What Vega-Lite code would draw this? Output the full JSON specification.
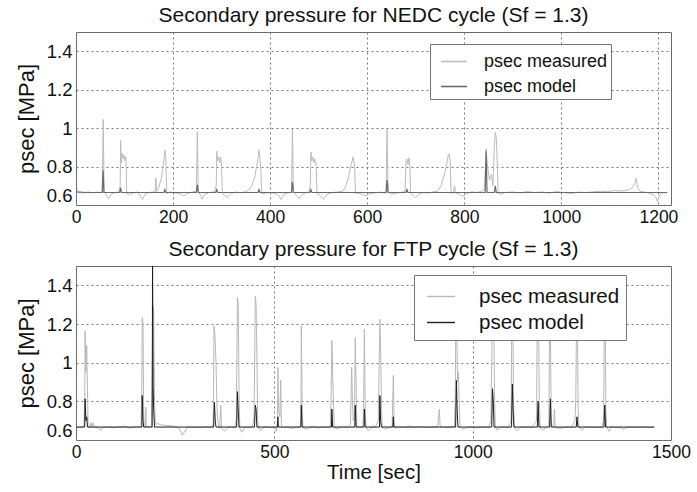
{
  "$schema": "https://vega.github.io/schema/vega-lite/v6.json",
  "padding": {"left": 14, "top": 4, "right": 5, "bottom": 5},
  "config": {
    "font": "Liberation Sans",
    "view": {"stroke": "#6a6a6a", "strokeWidth": 1},
    "axis": {
      "grid": true, "gridColor": "#7a7a7a", "gridDash": [2, 3], "gridOpacity": 1, "gridWidth": 1,
      "domain": false, "ticks": false,
      "labelColor": "#111", "labelFont": "Liberation Sans",
      "titleColor": "#111", "titleFont": "Liberation Sans", "titleFontWeight": "normal"
    },
    "axisX": {"labelFontSize": 17.5, "labelPadding": 3, "labelFlush": false, "titleFontSize": 20.5, "titlePadding": 2, "format": "d"},
    "axisY": {"labelFontSize": 18.5, "labelPadding": 4, "labelFlush": true, "titleFontSize": 22, "titlePadding": 8},
    "title": {"fontSize": 21, "fontWeight": "normal", "color": "#111", "font": "Liberation Sans", "offset": 6},
    "legend": {"title": null, "strokeColor": "#777", "fillColor": "white", "symbolType": "stroke", "labelColor": "#111", "labelFont": "Liberation Sans", "cornerRadius": 0},
    "concat": {"spacing": 12}
  },
  "resolve": {"scale": {"color": "independent", "x": "independent", "y": "independent"}, "legend": {"color": "independent"}},
  "datasets": {
    "nedc_meas": [
      {"t":0,"v":0.67},{"t":5,"v":0.665},{"t":15,"v":0.662},{"t":25,"v":0.668},{"t":35,"v":0.663},{"t":45,"v":0.667},{"t":54,"v":0.665},{"t":56,"v":1.045},{"t":58,"v":0.67},{"t":62,"v":0.655},{"t":67,"v":0.632},{"t":72,"v":0.655},{"t":80,"v":0.665},{"t":88,"v":0.668},{"t":91,"v":0.7},{"t":92,"v":0.935},{"t":93.5,"v":0.82},{"t":95,"v":0.87},{"t":97,"v":0.84},{"t":99,"v":0.86},{"t":101,"v":0.83},{"t":103,"v":0.85},{"t":104.5,"v":0.66},{"t":110,"v":0.655},{"t":118,"v":0.663},{"t":125,"v":0.668},{"t":132,"v":0.652},{"t":137,"v":0.628},{"t":142,"v":0.655},{"t":150,"v":0.665},{"t":160,"v":0.668},{"t":163,"v":0.67},{"t":164.5,"v":0.74},{"t":166,"v":0.67},{"t":170,"v":0.69},{"t":175,"v":0.73},{"t":179,"v":0.79},{"t":181,"v":0.83},{"t":183,"v":0.885},{"t":185,"v":0.84},{"t":187,"v":0.66},{"t":192,"v":0.667},{"t":200,"v":0.665},{"t":210,"v":0.66},{"t":217,"v":0.655},{"t":222,"v":0.648},{"t":230,"v":0.66},{"t":240,"v":0.668},{"t":248,"v":0.67},{"t":250,"v":0.98},{"t":252,"v":0.67},{"t":256,"v":0.655},{"t":260,"v":0.63},{"t":265,"v":0.655},{"t":275,"v":0.665},{"t":285,"v":0.668},{"t":289,"v":0.7},{"t":290,"v":0.88},{"t":292,"v":0.83},{"t":294,"v":0.85},{"t":296,"v":0.82},{"t":298,"v":0.85},{"t":300,"v":0.8},{"t":301.5,"v":0.66},{"t":306,"v":0.65},{"t":312,"v":0.64},{"t":320,"v":0.66},{"t":330,"v":0.668},{"t":340,"v":0.663},{"t":350,"v":0.67},{"t":357,"v":0.68},{"t":362,"v":0.7},{"t":368,"v":0.74},{"t":372,"v":0.8},{"t":375,"v":0.84},{"t":377,"v":0.885},{"t":379,"v":0.84},{"t":381,"v":0.78},{"t":382.5,"v":0.66},{"t":390,"v":0.662},{"t":400,"v":0.665},{"t":410,"v":0.66},{"t":418,"v":0.648},{"t":423,"v":0.628},{"t":428,"v":0.655},{"t":438,"v":0.665},{"t":444,"v":0.668},{"t":446,"v":0.995},{"t":448,"v":0.67},{"t":454,"v":0.65},{"t":460,"v":0.632},{"t":466,"v":0.655},{"t":475,"v":0.665},{"t":481,"v":0.67},{"t":483,"v":0.72},{"t":484,"v":0.875},{"t":486,"v":0.83},{"t":488,"v":0.85},{"t":490,"v":0.82},{"t":492,"v":0.84},{"t":495,"v":0.8},{"t":496.5,"v":0.66},{"t":502,"v":0.65},{"t":510,"v":0.63},{"t":517,"v":0.655},{"t":528,"v":0.665},{"t":540,"v":0.668},{"t":550,"v":0.672},{"t":556,"v":0.7},{"t":561,"v":0.74},{"t":565,"v":0.79},{"t":568,"v":0.82},{"t":571,"v":0.85},{"t":574,"v":0.8},{"t":576,"v":0.66},{"t":582,"v":0.662},{"t":590,"v":0.655},{"t":598,"v":0.648},{"t":606,"v":0.66},{"t":615,"v":0.663},{"t":625,"v":0.667},{"t":635,"v":0.662},{"t":639,"v":0.67},{"t":641,"v":0.995},{"t":643,"v":0.67},{"t":650,"v":0.655},{"t":660,"v":0.662},{"t":670,"v":0.665},{"t":678,"v":0.67},{"t":680,"v":0.83},{"t":682,"v":0.84},{"t":684,"v":0.81},{"t":686,"v":0.845},{"t":688,"v":0.8},{"t":689.5,"v":0.66},{"t":695,"v":0.65},{"t":700,"v":0.636},{"t":706,"v":0.655},{"t":715,"v":0.665},{"t":725,"v":0.662},{"t":735,"v":0.668},{"t":745,"v":0.672},{"t":752,"v":0.7},{"t":758,"v":0.75},{"t":763,"v":0.8},{"t":767,"v":0.86},{"t":769,"v":0.866},{"t":771,"v":0.82},{"t":773,"v":0.66},{"t":777,"v":0.665},{"t":780,"v":0.7},{"t":782,"v":0.665},{"t":790,"v":0.655},{"t":797,"v":0.645},{"t":805,"v":0.66},{"t":815,"v":0.668},{"t":825,"v":0.665},{"t":835,"v":0.67},{"t":842,"v":0.68},{"t":845,"v":0.893},{"t":848,"v":0.8},{"t":852,"v":0.73},{"t":856,"v":0.76},{"t":859,"v":0.7},{"t":862,"v":0.9},{"t":864,"v":0.978},{"t":866,"v":0.95},{"t":868,"v":0.82},{"t":870,"v":0.66},{"t":876,"v":0.655},{"t":885,"v":0.665},{"t":900,"v":0.668},{"t":915,"v":0.662},{"t":930,"v":0.67},{"t":945,"v":0.665},{"t":960,"v":0.668},{"t":975,"v":0.662},{"t":990,"v":0.67},{"t":1005,"v":0.665},{"t":1020,"v":0.66},{"t":1035,"v":0.667},{"t":1050,"v":0.665},{"t":1065,"v":0.668},{"t":1080,"v":0.672},{"t":1095,"v":0.67},{"t":1110,"v":0.675},{"t":1125,"v":0.673},{"t":1138,"v":0.678},{"t":1146,"v":0.69},{"t":1151,"v":0.71},{"t":1154,"v":0.74},{"t":1157,"v":0.69},{"t":1162,"v":0.672},{"t":1170,"v":0.668},{"t":1180,"v":0.662},{"t":1190,"v":0.652},{"t":1195,"v":0.64},{"t":1198,"v":0.617},{"t":1201,"v":0.64},{"t":1206,"v":0.66},{"t":1212,"v":0.665},{"t":1218,"v":0.663}
    ],
    "nedc_model": [
      {"t":0,"v":0.7},{"t":2,"v":0.668},{"t":20,"v":0.665},{"t":54,"v":0.665},{"t":56,"v":0.78},{"t":57.5,"v":0.665},{"t":90,"v":0.665},{"t":92,"v":0.69},{"t":93.5,"v":0.665},{"t":181,"v":0.665},{"t":183,"v":0.68},{"t":185,"v":0.665},{"t":248,"v":0.665},{"t":250,"v":0.705},{"t":252,"v":0.665},{"t":288,"v":0.665},{"t":290,"v":0.68},{"t":292,"v":0.665},{"t":375,"v":0.665},{"t":377,"v":0.68},{"t":379,"v":0.665},{"t":444,"v":0.665},{"t":446,"v":0.72},{"t":448,"v":0.665},{"t":482,"v":0.665},{"t":484,"v":0.68},{"t":486,"v":0.665},{"t":639,"v":0.665},{"t":641,"v":0.73},{"t":643,"v":0.665},{"t":680,"v":0.665},{"t":682,"v":0.68},{"t":684,"v":0.665},{"t":843,"v":0.665},{"t":845,"v":0.88},{"t":847,"v":0.665},{"t":862,"v":0.665},{"t":864,"v":0.7},{"t":866,"v":0.665},{"t":1218,"v":0.665}
    ],
    "ftp_meas": [
      {"t":0,"v":0.67},{"t":5,"v":0.665},{"t":12,"v":0.668},{"t":20,"v":0.67},{"t":22,"v":0.8},{"t":23,"v":1.165},{"t":25,"v":0.95},{"t":27,"v":1.09},{"t":29,"v":0.85},{"t":30.5,"v":0.67},{"t":35,"v":0.665},{"t":38,"v":0.69},{"t":40,"v":0.668},{"t":44,"v":0.69},{"t":46,"v":0.667},{"t":55,"v":0.665},{"t":63,"v":0.65},{"t":68,"v":0.665},{"t":80,"v":0.668},{"t":95,"v":0.663},{"t":110,"v":0.668},{"t":125,"v":0.672},{"t":135,"v":0.66},{"t":142,"v":0.665},{"t":155,"v":0.668},{"t":164,"v":0.67},{"t":166,"v":0.9},{"t":167,"v":1.234},{"t":169,"v":1.2},{"t":170.5,"v":0.75},{"t":172,"v":0.67},{"t":175,"v":0.67},{"t":176,"v":0.77},{"t":177,"v":0.67},{"t":190,"v":0.67},{"t":192,"v":0.9},{"t":194,"v":1.296},{"t":196,"v":1.25},{"t":198,"v":0.8},{"t":200,"v":0.68},{"t":205,"v":0.685},{"t":215,"v":0.678},{"t":230,"v":0.675},{"t":245,"v":0.672},{"t":255,"v":0.665},{"t":262,"v":0.655},{"t":268,"v":0.625},{"t":273,"v":0.64},{"t":280,"v":0.665},{"t":290,"v":0.668},{"t":300,"v":0.663},{"t":310,"v":0.668},{"t":320,"v":0.665},{"t":330,"v":0.67},{"t":340,"v":0.665},{"t":346,"v":0.68},{"t":348,"v":1.19},{"t":350,"v":1.15},{"t":353,"v":1.0},{"t":355,"v":0.8},{"t":357,"v":0.7},{"t":362,"v":0.66},{"t":365,"v":0.78},{"t":367,"v":0.66},{"t":375,"v":0.645},{"t":382,"v":0.665},{"t":392,"v":0.668},{"t":400,"v":0.665},{"t":404,"v":0.7},{"t":407,"v":1.337},{"t":409,"v":1.3},{"t":411,"v":0.85},{"t":413,"v":0.66},{"t":418,"v":0.64},{"t":425,"v":0.665},{"t":435,"v":0.665},{"t":445,"v":0.67},{"t":449,"v":0.72},{"t":452,"v":1.345},{"t":454,"v":1.3},{"t":456,"v":1.05},{"t":458,"v":0.7},{"t":460,"v":0.665},{"t":466,"v":0.648},{"t":472,"v":0.665},{"t":482,"v":0.668},{"t":492,"v":0.663},{"t":500,"v":0.665},{"t":505,"v":0.645},{"t":508,"v":0.7},{"t":509,"v":0.976},{"t":511,"v":0.75},{"t":514,"v":0.72},{"t":516,"v":0.91},{"t":518,"v":0.67},{"t":525,"v":0.665},{"t":535,"v":0.668},{"t":545,"v":0.66},{"t":555,"v":0.665},{"t":565,"v":0.668},{"t":567,"v":0.7},{"t":568,"v":1.19},{"t":570,"v":0.8},{"t":572,"v":0.665},{"t":580,"v":0.655},{"t":590,"v":0.665},{"t":600,"v":0.668},{"t":612,"v":0.662},{"t":622,"v":0.668},{"t":632,"v":0.665},{"t":641,"v":0.67},{"t":643,"v":0.8},{"t":645,"v":1.114},{"t":647,"v":0.95},{"t":649,"v":0.8},{"t":651,"v":0.67},{"t":658,"v":0.655},{"t":665,"v":0.665},{"t":675,"v":0.668},{"t":685,"v":0.665},{"t":692,"v":0.68},{"t":695,"v":0.976},{"t":697,"v":0.8},{"t":699,"v":0.7},{"t":702,"v":0.72},{"t":704,"v":1.13},{"t":706,"v":0.9},{"t":708,"v":0.67},{"t":715,"v":0.665},{"t":723,"v":0.672},{"t":725,"v":0.75},{"t":727,"v":1.174},{"t":729,"v":0.8},{"t":731,"v":0.665},{"t":737,"v":0.648},{"t":745,"v":0.665},{"t":755,"v":0.668},{"t":762,"v":0.7},{"t":766,"v":1.225},{"t":768,"v":1.05},{"t":770,"v":0.8},{"t":772,"v":0.665},{"t":780,"v":0.655},{"t":790,"v":0.665},{"t":797,"v":0.67},{"t":800,"v":0.935},{"t":802,"v":0.7},{"t":804,"v":0.665},{"t":815,"v":0.668},{"t":825,"v":0.665},{"t":840,"v":0.672},{"t":855,"v":0.665},{"t":870,"v":0.67},{"t":885,"v":0.665},{"t":900,"v":0.668},{"t":912,"v":0.67},{"t":916,"v":0.76},{"t":918,"v":0.67},{"t":930,"v":0.665},{"t":945,"v":0.668},{"t":954,"v":0.67},{"t":956,"v":0.8},{"t":958,"v":1.3},{"t":960,"v":1.15},{"t":962,"v":0.9},{"t":964,"v":0.95},{"t":966,"v":0.8},{"t":968,"v":0.67},{"t":975,"v":0.655},{"t":985,"v":0.665},{"t":995,"v":0.668},{"t":1010,"v":0.663},{"t":1025,"v":0.668},{"t":1040,"v":0.665},{"t":1046,"v":0.7},{"t":1048,"v":1.0},{"t":1050,"v":1.32},{"t":1053,"v":1.28},{"t":1055,"v":0.85},{"t":1057,"v":0.67},{"t":1063,"v":0.65},{"t":1070,"v":0.665},{"t":1080,"v":0.668},{"t":1090,"v":0.665},{"t":1097,"v":0.7},{"t":1099,"v":1.35},{"t":1101,"v":1.3},{"t":1103,"v":0.8},{"t":1105,"v":0.665},{"t":1112,"v":0.648},{"t":1120,"v":0.665},{"t":1135,"v":0.668},{"t":1150,"v":0.665},{"t":1161,"v":0.7},{"t":1163,"v":1.3},{"t":1166,"v":1.25},{"t":1168,"v":0.8},{"t":1170,"v":0.665},{"t":1177,"v":0.65},{"t":1185,"v":0.665},{"t":1192,"v":0.68},{"t":1194,"v":1.2},{"t":1196,"v":1.18},{"t":1198,"v":0.7},{"t":1200,"v":0.67},{"t":1204,"v":0.67},{"t":1206,"v":0.76},{"t":1208,"v":0.665},{"t":1220,"v":0.66},{"t":1230,"v":0.665},{"t":1240,"v":0.668},{"t":1250,"v":0.665},{"t":1258,"v":0.7},{"t":1260,"v":0.82},{"t":1262,"v":1.25},{"t":1264,"v":1.2},{"t":1266,"v":0.75},{"t":1268,"v":0.67},{"t":1275,"v":0.65},{"t":1282,"v":0.665},{"t":1295,"v":0.668},{"t":1310,"v":0.665},{"t":1325,"v":0.665},{"t":1330,"v":0.7},{"t":1332,"v":1.25},{"t":1334,"v":1.22},{"t":1336,"v":0.75},{"t":1338,"v":0.665},{"t":1344,"v":0.645},{"t":1350,"v":0.67},{"t":1360,"v":0.665},{"t":1372,"v":0.665},{"t":1380,"v":0.655},{"t":1388,"v":0.665},{"t":1400,"v":0.668},{"t":1415,"v":0.665},{"t":1430,"v":0.668},{"t":1445,"v":0.665},{"t":1458,"v":0.667}
    ],
    "ftp_model": [
      {"t":0,"v":0.667},{"t":22,"v":0.667},{"t":23,"v":0.813},{"t":25,"v":0.7},{"t":27,"v":0.72},{"t":29,"v":0.667},{"t":166,"v":0.667},{"t":167,"v":0.83},{"t":169,"v":0.7},{"t":170.5,"v":0.667},{"t":192,"v":0.667},{"t":193,"v":1.52},{"t":194.5,"v":0.873},{"t":196,"v":0.75},{"t":198,"v":0.667},{"t":347,"v":0.667},{"t":349,"v":0.796},{"t":351,"v":0.7},{"t":353,"v":0.667},{"t":405,"v":0.667},{"t":407,"v":0.85},{"t":409,"v":0.75},{"t":411,"v":0.667},{"t":450,"v":0.667},{"t":452,"v":0.78},{"t":454,"v":0.76},{"t":456,"v":0.667},{"t":508,"v":0.667},{"t":509,"v":0.72},{"t":510,"v":0.667},{"t":567,"v":0.667},{"t":568,"v":0.78},{"t":570,"v":0.667},{"t":644,"v":0.667},{"t":645,"v":0.76},{"t":647,"v":0.667},{"t":703,"v":0.667},{"t":704,"v":0.78},{"t":706,"v":0.667},{"t":726,"v":0.667},{"t":727,"v":0.76},{"t":729,"v":0.667},{"t":765,"v":0.667},{"t":766,"v":0.83},{"t":768,"v":0.7},{"t":770,"v":0.667},{"t":799,"v":0.667},{"t":800,"v":0.72},{"t":801,"v":0.667},{"t":957,"v":0.667},{"t":959,"v":0.908},{"t":961,"v":0.75},{"t":963,"v":0.667},{"t":1048,"v":0.667},{"t":1050,"v":0.865},{"t":1052,"v":0.8},{"t":1054,"v":0.667},{"t":1098,"v":0.667},{"t":1100,"v":0.89},{"t":1102,"v":0.75},{"t":1104,"v":0.667},{"t":1163,"v":0.667},{"t":1165,"v":0.8},{"t":1167,"v":0.667},{"t":1194,"v":0.667},{"t":1196,"v":0.813},{"t":1198,"v":0.667},{"t":1261,"v":0.667},{"t":1263,"v":0.72},{"t":1265,"v":0.667},{"t":1331,"v":0.667},{"t":1333,"v":0.78},{"t":1335,"v":0.667},{"t":1458,"v":0.667}
    ]
  },
  "vconcat": [
    {
      "width": 595, "height": 173,
      "title": {"text": "Secondary pressure for NEDC cycle (Sf = 1.3)"},
      "layer": [
        {
          "data": {"name": "nedc_meas"},
          "mark": {"type": "line", "strokeWidth": 1, "clip": true},
          "encoding": {
            "x": {"field": "t", "type": "quantitative", "scale": {"domain": [0, 1226], "nice": false}, "axis": {"title": null, "values": [0, 200, 400, 600, 800, 1000, 1200]}},
            "y": {"field": "v", "type": "quantitative", "scale": {"domain": [0.6, 1.5], "nice": false, "zero": false}, "axis": {"title": "psec [MPa]", "values": [0.6, 0.8, 1, 1.2, 1.4], "format": "~g"}},
            "color": {"datum": "psec measured", "type": "nominal",
              "scale": {"domain": ["psec measured", "psec model"], "range": ["#bcbcbc", "#6a6a6a"]},
              "legend": {"orient": "none", "legendX": 354, "legendY": 12, "padding": 3.5, "symbolOffset": 6.5, "labelFontSize": 18, "symbolSize": 676, "symbolStrokeWidth": 1.6, "rowPadding": 2, "labelOffset": 16}}
          }
        },
        {
          "data": {"name": "nedc_model"},
          "mark": {"type": "line", "strokeWidth": 1.2, "clip": true},
          "encoding": {
            "x": {"field": "t", "type": "quantitative"},
            "y": {"field": "v", "type": "quantitative"},
            "color": {"datum": "psec model", "type": "nominal"}
          }
        }
      ]
    },
    {
      "width": 595, "height": 174,
      "title": {"text": "Secondary pressure for FTP cycle (Sf = 1.3)"},
      "layer": [
        {
          "data": {"name": "ftp_meas"},
          "mark": {"type": "line", "strokeWidth": 1, "clip": true},
          "encoding": {
            "x": {"field": "t", "type": "quantitative", "scale": {"domain": [0, 1500], "nice": false}, "axis": {"title": "Time [sec]", "values": [0, 500, 1000, 1500]}},
            "y": {"field": "v", "type": "quantitative", "scale": {"domain": [0.6, 1.5], "nice": false, "zero": false}, "axis": {"title": "psec [MPa]", "values": [0.6, 0.8, 1, 1.2, 1.4], "format": "~g"}},
            "color": {"datum": "psec measured", "type": "nominal",
              "scale": {"domain": ["psec measured", "psec model"], "range": ["#b8b8b8", "#1e1e1e"]},
              "legend": {"orient": "none", "legendX": 338, "legendY": 9, "padding": 6.5, "symbolOffset": 5.5, "labelFontSize": 20.5, "symbolSize": 784, "symbolStrokeWidth": 1.4, "rowPadding": 0, "labelOffset": 23}}
          }
        },
        {
          "data": {"name": "ftp_model"},
          "mark": {"type": "line", "strokeWidth": 1, "clip": true},
          "encoding": {
            "x": {"field": "t", "type": "quantitative"},
            "y": {"field": "v", "type": "quantitative"},
            "color": {"datum": "psec model", "type": "nominal"}
          }
        }
      ]
    }
  ]
}
